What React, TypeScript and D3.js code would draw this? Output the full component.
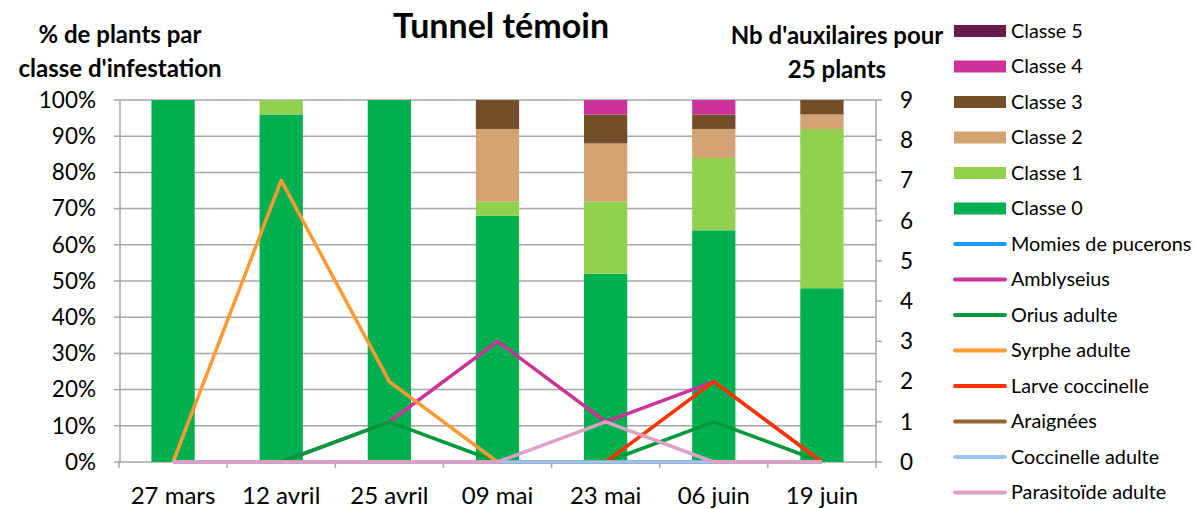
import * as d3 from "d3";
import React from "react";

const dates = ["27 mars", "12 avril", "25 avril", "09 mai", "23 mai", "06 juin", "19 juin"];

// % de plants par classe
const classe0 = [100, 96, 100, 68, 52, 64, 48];
const classe1 = [0, 4, 0, 4, 20, 20, 44];
const classe2 = [0, 0, 0, 20, 16, 8, 4];
const classe3 = [0, 0, 0, 8, 8, 4, 4];
const classe4 = [0, 0, 0, 0, 4, 4, 0];
const classe5 = [0, 0, 0, 0, 0, 0, 0];

// auxiliaires pour 25 plants
const momies = [0, 0, 0, 0, 0, 0, 0];
const amblyseius = [0, 0, 1, 3, 1, 2, 0];
const orius = [null, 0, 1, 0, 0, 1, 0];
const syrphe = [0, 7, 2, 0, 0, 0, 0];
const larve = [null, null, null, null, 0, 2, 0];
const araignees = [0, 0, 0, 0, 0, 0, 0];
const coccAdulte = [0, 0, 0, 0, 0, 0, 0];
const parasitoide = [0, 0, 0, 0, 1, 0, 0];

const leftTicks = [0, 10, 20, 30, 40, 50, 60, 70, 80, 90, 100];
const rightTicks = [0, 1, 2, 3, 4, 5, 6, 7, 8, 9];

const classes = [
  { key: "Classe 0", values: classe0, color: "#00B050" },
  { key: "Classe 1", values: classe1, color: "#92D050" },
  { key: "Classe 2", values: classe2, color: "#D4A373" },
  { key: "Classe 3", values: classe3, color: "#744E28" },
  { key: "Classe 4", values: classe4, color: "#CC3399" },
  { key: "Classe 5", values: classe5, color: "#6A1B4D" },
];

const series = [
  { key: "Momies de pucerons", values: momies, color: "#1E9BF0" },
  { key: "Amblyseius", values: amblyseius, color: "#CC3399" },
  { key: "Orius adulte", values: orius, color: "#00993A" },
  { key: "Syrphe adulte", values: syrphe, color: "#FF9933" },
  { key: "Larve coccinelle", values: larve, color: "#FF3300" },
  { key: "Araignées", values: araignees, color: "#996633" },
  { key: "Coccinelle adulte", values: coccAdulte, color: "#99C4F5" },
  { key: "Parasitoïde adulte", values: parasitoide, color: "#DDA0C6" },
];

const font = "Lato, 'Open Sans', sans-serif";
const left = 120, right = 876, top = 100, bottom = 462;

export default function App() {
  const x = d3.scaleBand<string>().domain(dates).range([left - 1, right]).paddingInner(0.6).paddingOuter(0.3);
  const yL = d3.scaleLinear().domain([0, 100]).range([bottom, top]);
  const yR = d3.scaleLinear().domain([0, 9]).range([bottom, top]);

  const table = dates.map((d, i) => {
    const row: any = { date: d };
    classes.forEach(c => (row[c.key] = c.values[i]));
    return row;
  });
  const stacked = d3.stack<any>().keys(classes.map(c => c.key))(table);

  const line = d3
    .line<number | null>()
    .defined(v => v !== null)
    .x((_, i) => (x(dates[i]) as number) + x.bandwidth() / 2)
    .y(v => yR(v as number));

  const step = x.step();
  const bounds = dates.map(d => (x(d) as number) - step * 0.3).concat([right]);

  const legendItems = [...classes].reverse().map(c => ({ ...c, bar: true })).concat(series.map(s => ({ ...s, bar: false })) as any);

  return (
    <svg width={1195} height={509} style={{ position: "absolute", left: 0, top: 0, background: "#fff" }} fontFamily={font}>
      {/* gridlines */}
      {leftTicks.map(t => (
        <line key={"g" + t} x1={left} x2={right} y1={yL(t)} y2={yL(t)} stroke="#A6A6A6" strokeWidth={1.5} />
      ))}
      {/* bars */}
      {stacked.map((layer, li) => (
        <g key={layer.key} fill={classes[li].color}>
          {layer.map((d, i) =>
            d[1] - d[0] > 0 ? (
              <rect key={i} x={x(dates[i])} width={x.bandwidth()} y={yL(d[1])} height={yL(d[0]) - yL(d[1])} />
            ) : null
          )}
        </g>
      ))}
      {/* axes */}
      <line x1={left} x2={left} y1={top} y2={bottom} stroke="#A6A6A6" strokeWidth={1.5} />
      <line x1={right} x2={right} y1={top} y2={bottom} stroke="#A6A6A6" strokeWidth={1.5} />
      {leftTicks.map(t => (
        <g key={"l" + t}>
          <line x1={left - 6} x2={left} y1={yL(t)} y2={yL(t)} stroke="#A6A6A6" strokeWidth={1.5} />
          <text x={96} y={yL(t)} dy="0.35em" textAnchor="end" fontSize={22.5}>{t + "%"}</text>
        </g>
      ))}
      {rightTicks.map(t => (
        <g key={"r" + t}>
          <line x1={right} x2={right + 6} y1={yR(t)} y2={yR(t)} stroke="#A6A6A6" strokeWidth={1.5} />
          <text x={900} y={yR(t)} dy="0.35em" textAnchor="start" fontSize={22.5}>{t}</text>
        </g>
      ))}
      {bounds.map((b, i) => (
        <line key={"b" + i} x1={b} x2={b} y1={bottom} y2={bottom + 6} stroke="#A6A6A6" strokeWidth={1.5} />
      ))}
      {dates.map(d => (
        <text key={d} x={(x(d) as number) + x.bandwidth() / 2} y={504} textAnchor="middle" fontSize={24}>{d}</text>
      ))}
      {/* lines */}
      {series.map(s => (
        <path key={s.key} d={line(s.values) || ""} fill="none" stroke={s.color} strokeWidth={3.5} strokeLinejoin="round" />
      ))}
      {/* titles */}
      <text x={501} y={38} textAnchor="middle" fontSize={34} fontWeight="bold">Tunnel témoin</text>
      <text x={120} y={43} textAnchor="middle" fontSize={24} fontWeight="bold">% de plants par</text>
      <text x={120} y={77} textAnchor="middle" fontSize={24} fontWeight="bold">classe d'infestation</text>
      <text x={837} y={44} textAnchor="middle" fontSize={24} fontWeight="bold">Nb d'auxilaires pour</text>
      <text x={837} y={78} textAnchor="middle" fontSize={24} fontWeight="bold">25 plants</text>
      {/* legend */}
      {legendItems.map((it: any, i: number) => {
        const cy = 31 + i * 35.5;
        return (
          <g key={it.key}>
            {it.bar ? (
              <rect x={954} y={cy - 6} width={52} height={12} fill={it.color} />
            ) : (
              <line x1={955} x2={1005} y1={cy} y2={cy} stroke={it.color} strokeWidth={4} strokeLinecap="round" />
            )}
            <text x={1011} y={cy} dy="0.35em" fontSize={19.8}>{it.key}</text>
          </g>
        );
      })}
    </svg>
  );
}
